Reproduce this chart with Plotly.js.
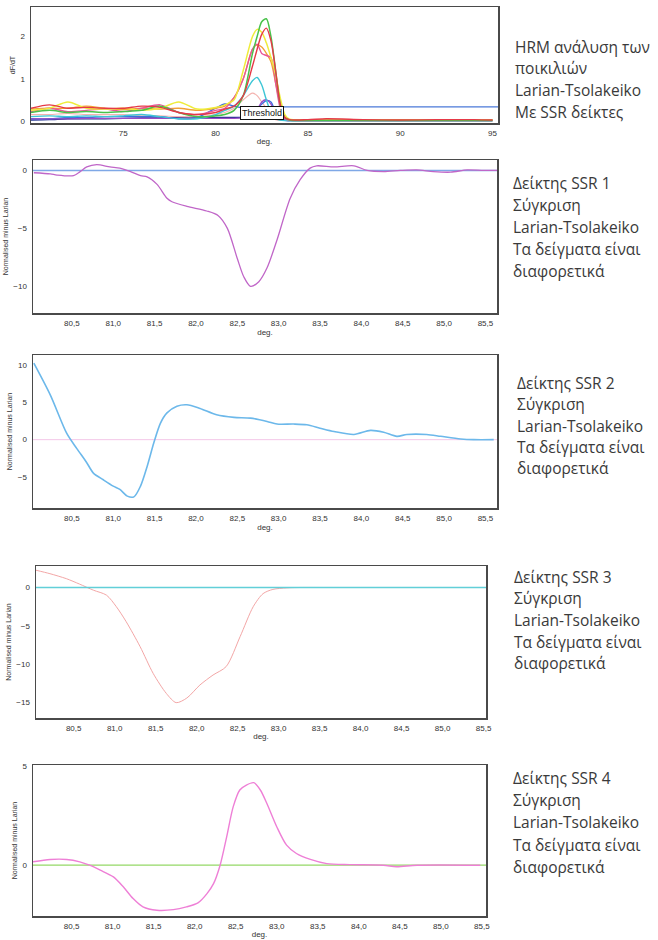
<!DOCTYPE html>
<html>
<head>
<meta charset="utf-8">
<script src="https://cdn.plot.ly/plotly-3.0.1.min.js"></script>
<style>html,body{margin:0;padding:0;background:#fff;}#chart{width:658px;height:940px;}</style>
</head>
<body>
<div id="chart"></div>
<script>
// ---------------- DATA ----------------
// Panel 1: HRM dF/dT curves
const hrmX = [70,71,72,73,74,75,76,77,78,79,80,80.5,81,81.5,82,82.25,82.5,82.75,83,83.25,83.5,83.75,84,85,86,88,90,92,94,95];
const hrmYellow = [0.25,0.3,0.45,0.3,0.28,0.3,0.25,0.3,0.45,0.28,0.32,0.38,0.5,1.2,2.0,2.17,2.1,1.85,1.5,1.1,0.55,0.15,0.04,0.02,0.02,0.02,0.02,0.02,0.02,0.02];
const hrmOrange = [0.28,0.3,0.3,0.35,0.3,0.27,0.3,0.28,0.3,0.25,0.3,0.35,0.55,1.0,1.7,1.8,1.75,1.6,1.4,0.9,0.4,0.1,0.03,0.02,0.02,0.02,0.02,0.02,0.02,0.02];
const hrmGreen = [0.2,0.25,0.2,0.22,0.2,0.22,0.25,0.35,0.2,0.1,0.12,0.15,0.25,0.6,1.6,2.0,2.35,2.42,2.0,1.2,0.4,0.08,0.02,0.01,0.01,0.01,0.01,0.01,0.01,0.01];
const hrmRed = [0.3,0.38,0.3,0.32,0.3,0.3,0.35,0.32,0.2,0.15,0.2,0.28,0.35,0.6,1.3,1.7,2.05,2.2,1.9,1.2,0.4,0.08,0.03,0.03,0.05,0.03,0.02,0.03,0.03,0.02];
const hrmPink = [0.22,0.3,0.22,0.25,0.28,0.22,0.3,0.38,0.2,0.15,0.25,0.3,0.55,1.0,1.7,1.82,1.6,1.55,1.5,0.9,0.3,0.05,0.02,0.01,0.01,0.01,0.01,0.01,0.01,0.01];
const hrmCyan = [0.1,0.12,0.1,0.12,0.1,0.12,0.15,0.1,0.05,0.05,0.15,0.25,0.35,0.6,0.95,1.03,0.85,0.5,0.2,0.05,0.02,0.01,0.01,0.01,0.01,0.01,0.01,0.01,0.01,0.01];
const hrmSalmon = [0.15,0.15,0.18,0.15,0.15,0.15,0.12,0.12,0.1,0.1,0.15,0.2,0.3,0.5,0.66,0.6,0.45,0.3,0.1,0.03,0.01,0.01,0.01,0.01,0.01,0.01,0.01,0.01,0.01,0.01];
const hrmPurple = [0.05,0.05,0.05,0.06,0.06,0.06,0.06,0.06,0.06,0.06,0.06,0.06,0.06,0.08,0.12,0.25,0.45,0.5,0.4,0.15,0.03,0.01,0.01,0.01,0.01,0.01,0.01,0.01,0.01,0.01];
const hrmBlue = [0.05,0.05,0.08,0.08,0.1,0.1,0.1,0.1,0.05,0.08,0.3,0.4,0.35,0.3,0.25,0.3,0.4,0.48,0.45,0.2,0.05,0.02,0.01,0.01,0.01,0.01,0.01,0.01,0.01,0.01];
const hrmDarkBlue = [0.02,0.03,0.05,0.05,0.05,0.06,0.07,0.07,0.08,0.08,0.08,0.08,0.08,0.08,0.08,0.08,0.08,0.08,0.08,0.05,0.03,0.02,0.01,0.01,0.01,0.01,0.01,0.01,0.01,0.01];
const thresholdValue = 0.33;
const thresholdX = [83.6, 95.3];
const hrmTickVals = [75,80,85,90,95];
const hrmYTickVals = [0,1,2];

// SSR 1
const ssr1X = [80.04,80.24,80.32,80.52,80.60,80.68,80.80,80.96,81.08,81.21,81.33,81.41,81.53,81.65,81.71,81.89,82.13,82.27,82.38,82.50,82.58,82.66,82.76,82.86,82.98,83.14,83.26,83.38,83.46,83.67,83.91,84.07,84.27,84.47,84.67,84.87,85.08,85.28,85.48,85.64];
const ssr1Y = [-0.2,-0.3,-0.4,-0.45,-0.1,0.3,0.5,0.3,0.2,-0.1,-0.45,-0.55,-1.2,-2.4,-2.7,-3.1,-3.5,-3.9,-5.0,-7.6,-9.2,-10.0,-9.6,-8.4,-6.0,-2.4,-0.8,0.2,0.4,0.3,0.4,0,-0.1,0,0.05,-0.1,-0.15,0.05,0,0];
// SSR 2
const ssr2X = [80.04,80.24,80.44,80.56,80.68,80.76,80.88,81.00,81.08,81.17,81.25,81.33,81.41,81.49,81.57,81.65,81.77,81.89,82.05,82.25,82.46,82.66,82.86,82.98,83.18,83.34,83.50,83.67,83.91,84.11,84.27,84.43,84.55,84.79,84.96,85.20,85.36,85.60];
const ssr2Y = [10.3,6.0,0.8,-1.2,-3.1,-4.5,-5.4,-6.25,-6.7,-7.6,-7.7,-6.25,-3.6,-0.45,2.2,3.6,4.5,4.7,4.2,3.35,3.0,2.9,2.45,2.1,2.1,2.0,1.55,1.1,0.7,1.25,1.0,0.45,0.7,0.7,0.45,0.1,0,0];
// SSR 3
const ssr3X = [80.04,80.21,80.41,80.57,80.74,80.90,81.02,81.14,81.31,81.47,81.63,81.75,81.88,82.04,82.20,82.36,82.53,82.69,82.81,82.93,83.10,83.26,83.5,84.0,84.5,85.0,85.5];
const ssr3Y = [2.25,1.8,1.15,0.45,-0.35,-1.0,-2.5,-4.45,-7.7,-11.2,-13.8,-15,-14.4,-12.7,-11.4,-10.3,-6.4,-2.5,-0.8,-0.25,-0.05,0,0,0,0,0,0];
// SSR 4
const ssr4X = [80.03,80.24,80.44,80.60,80.72,80.85,81.01,81.13,81.25,81.37,81.54,81.74,81.90,82.04,82.15,82.23,82.31,82.39,82.47,82.55,82.63,82.72,82.80,82.88,83.00,83.12,83.24,83.41,83.61,83.89,84.30,84.46,84.71,85.48];
const ssr4Y = [0.17,0.29,0.29,0.17,0,-0.25,-0.59,-1.09,-1.68,-2.1,-2.27,-2.24,-2.1,-1.9,-1.43,-0.93,0,1.43,2.95,3.79,4.04,4.16,3.79,3.11,1.94,1.01,0.59,0.29,0.08,0.03,0,-0.08,0,0];

const refX = [80.0, 85.7];
const refY = [0, 0];
const ssrTickVals = [80.5,81.0,81.5,82.0,82.5,83.0,83.5,84.0,84.5,85.0,85.5];
const ssrTickText = ['80,5','81,0','81,5','82,0','82,5','83,0','83,5','84,0','84,5','85,0','85,5'];

const textBlocks = [
  ['HRM ανάλυση των','ποικιλιών','Larian-Tsolakeiko','Με SSR δείκτες'],
  ['Δείκτης SSR 1','Σύγκριση','Larian-Tsolakeiko','Τα δείγματα είναι','διαφορετικά'],
  ['Δείκτης SSR 2','Σύγκριση','Larian-Tsolakeiko','Τα δείγματα είναι','διαφορετικά'],
  ['Δείκτης SSR 3','Σύγκριση','Larian-Tsolakeiko','Τα δείγματα είναι','διαφορετικά'],
  ['Δείκτης SSR 4','Σύγκριση','Larian-Tsolakeiko','Τα δείγματα είναι','διαφορετικά']
];

// ---------------- LAYOUT HELPERS ----------------
const W = 658, H = 940;
const blockPos = [ {x:513, y:[47,68,90,112]},
                   {x:511, y:[183,205,227,249,271]},
                   {x:515, y:[383,404,426,447,468]},
                   {x:512, y:[577,598,620,642,663]},
                   {x:511, y:[778,800,822,845,867]} ];

function xa(px0, px1, range, anchor, tickvals, ticktext) {
  const a = {domain:[px0/W, px1/W], range:range, anchor:anchor, showgrid:false, zeroline:false,
    showline:true, mirror:true, linecolor:'#4a4a4a', linewidth:1.5, ticks:'',
    tickfont:{family:'Liberation Sans, Arial', size:8, color:'#333'},
    tickvals:tickvals, ticklabelstandoff:2,
    title:{text:'deg.', font:{family:'Liberation Sans, Arial', size:8, color:'#333'}, standoff:1}};
  if (ticktext) a.ticktext = ticktext;
  return a;
}
function ya(py0, py1, range, anchor, tickvals, title) {
  return {domain:[1-py1/H, 1-py0/H], range:range, anchor:anchor, showgrid:false, zeroline:false,
    showline:true, mirror:true, linecolor:'#4a4a4a', linewidth:1.5, ticks:'',
    tickfont:{family:'Liberation Sans, Arial', size:8, color:'#333'},
    tickvals:tickvals, ticklabelstandoff:3,
    title:{text:title, font:{family:'Liberation Sans, Arial', size:7, color:'#333'}, standoff:4}};
}
function line(x, y, color, xaxis, yaxis, width, shape) {
  return {x:x, y:y, type:'scatter', mode:'lines', xaxis:xaxis, yaxis:yaxis, hoverinfo:'skip',
    line:{color:color, width:width||1.3, shape:shape||'spline', smoothing:0.8}, showlegend:false};
}

const traces = [
  line(hrmX, hrmDarkBlue, '#1c2f8e', 'x', 'y', 1.4),
  line(hrmX, hrmSalmon, '#f4b4b0', 'x', 'y', 1.2),
  line(hrmX, hrmBlue, '#3b6fe0', 'x', 'y', 1.4),
  line(hrmX, hrmPurple, '#9a4cc4', 'x', 'y', 1.3),
  line(hrmX, hrmCyan, '#3ec6d6', 'x', 'y', 1.4),
  line(hrmX, hrmOrange, '#f2a035', 'x', 'y', 1.3),
  line(hrmX, hrmPink, '#e8559a', 'x', 'y', 1.4),
  line(hrmX, hrmYellow, '#efec3a', 'x', 'y', 1.5),
  line(hrmX, hrmGreen, '#49c24a', 'x', 'y', 1.5),
  line(hrmX, hrmRed, '#e63946', 'x', 'y', 1.4),
  line(thresholdX, [thresholdValue, thresholdValue], '#4a78d8', 'x', 'y', 1.2, 'linear'),

  line(refX, refY, '#7fa8e6', 'x2', 'y2', 1.4, 'linear'),
  line(ssr1X, ssr1Y, '#c066c8', 'x2', 'y2', 1.3),

  line(refX, refY, '#f4c6e8', 'x3', 'y3', 1.0, 'linear'),
  line(ssr2X, ssr2Y, '#6cb8ea', 'x3', 'y3', 1.6),

  line(ssr3X, ssr3Y, '#f3a6a6', 'x4', 'y4', 1.0),
  line(refX, refY, '#62cfd8', 'x4', 'y4', 1.4, 'linear'),

  line(refX, refY, '#94d866', 'x5', 'y5', 1.2, 'linear'),
  line(ssr4X, ssr4Y, '#ee7fd6', 'x5', 'y5', 1.4)
];

const annotations = [{
  text:'Threshold', xref:'x', yref:'y', x:82.51, y:0.18, showarrow:false,
  bordercolor:'#111', borderwidth:1, borderpad:1, bgcolor:'#fff',
  font:{family:'Liberation Sans, Arial', size:9, color:'#111'}
}];
textBlocks.forEach((blk, i) => {
  blk.forEach((t, j) => {
    annotations.push({text:t, xref:'paper', yref:'paper', x:blockPos[i].x/W, y:1-blockPos[i].y[j]/H,
      xanchor:'left', yanchor:'middle', showarrow:false,
      font:{family:'Open Sans, Noto Sans', size:15.5, color:'#3a3a3a'}});
  });
});

const layout = {
  width:W, height:H, margin:{l:0,r:0,t:0,b:0}, paper_bgcolor:'#fff', plot_bgcolor:'#fff',
  showlegend:false,
  xaxis: xa(31, 498, [70, 95.3], 'y', hrmTickVals),
  yaxis: ya(7, 123, [-0.05, 2.7], 'x', hrmYTickVals, 'dF/dT'),
  xaxis2: xa(33, 497, [80.03, 85.64], 'y2', ssrTickVals, ssrTickText),
  yaxis2: ya(160, 313, [-12.3, 0.9], 'x2', [0,-5,-10], 'Normalised minus Larian'),
  xaxis3: xa(33, 497, [80.03, 85.64], 'y3', ssrTickVals, ssrTickText),
  yaxis3: ya(355, 508, [-9.2, 11.4], 'x3', [10,5,0,-5], 'Normalised minus Larian'),
  xaxis4: xa(36, 486, [80.04, 85.53], 'y4', ssrTickVals, ssrTickText),
  yaxis4: ya(566, 718, [-17.0, 2.8], 'x4', [0,-5,-10,-15], 'Normalised minus Larian'),
  xaxis5: xa(33, 486, [80.03, 85.55], 'y5', ssrTickVals, ssrTickText),
  yaxis5: ya(765, 916, [-2.56, 5.05], 'x5', [5,0], 'Normalised minus Larian'),
  annotations: annotations
};

Plotly.newPlot('chart', traces, layout, {staticPlot:true, displayModeBar:false});
</script>
</body>
</html>
